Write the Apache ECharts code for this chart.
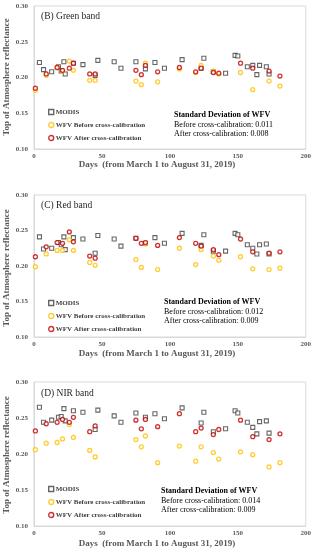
<!DOCTYPE html>
<html>
<head>
<meta charset="utf-8">
<script src="https://cdn.jsdelivr.net/npm/echarts@6/dist/echarts.min.js"></script>
<style>html,body{margin:0;padding:0;background:#fff;}#c{width:314px;height:550px;}</style>
</head>
<body>
<div id="c"></div>
<script>
// Days of observations
var modisDays = [4, 7, 13, 18, 20, 22, 23, 29, 36, 45, 47, 59, 64, 75, 82, 89, 96, 109, 123, 125, 132, 141, 148, 150, 157, 161, 164, 166, 171, 173];
var wfvDays = [1, 9, 17, 21, 26, 29, 41, 45, 75, 79, 82, 91, 107, 119, 123, 132, 136, 152, 161, 173, 181];

// (B) Green band
var greenModis = [0.221, 0.211, 0.208, 0.215, 0.209, 0.222, 0.205, 0.220, 0.218, 0.203, 0.224, 0.222, 0.213, 0.222, 0.212, 0.221, 0.213, 0.225, 0.213, 0.227, 0.208, 0.206, 0.231, 0.230, 0.215, 0.217, 0.204, 0.217, 0.215, 0.205];
var greenBefore = [0.182, 0.203, 0.214, 0.209, 0.223, 0.210, 0.196, 0.196, 0.195, 0.190, 0.220, 0.194, 0.212, 0.207, 0.217, 0.209, 0.205, 0.207, 0.183, 0.195, 0.188];
var greenAfter = [0.185, 0.205, 0.214, 0.210, 0.213, 0.220, 0.205, 0.205, 0.210, 0.204, 0.217, 0.208, 0.214, 0.208, 0.213, 0.207, 0.206, 0.220, 0.213, 0.209, 0.202];

// (C) Red band
var redModis = [0.241, 0.224, 0.225, 0.233, 0.230, 0.241, 0.223, 0.240, 0.238, 0.218, 0.243, 0.238, 0.228, 0.239, 0.232, 0.240, 0.232, 0.246, 0.229, 0.244, 0.221, 0.221, 0.246, 0.244, 0.230, 0.225, 0.217, 0.230, 0.231, 0.217];
var redBefore = [0.199, 0.217, 0.222, 0.222, 0.237, 0.222, 0.205, 0.201, 0.209, 0.198, 0.231, 0.195, 0.225, 0.202, 0.223, 0.214, 0.208, 0.213, 0.196, 0.195, 0.197];
var redAfter = [0.213, 0.227, 0.233, 0.232, 0.248, 0.234, 0.214, 0.211, 0.239, 0.232, 0.233, 0.229, 0.240, 0.232, 0.228, 0.223, 0.216, 0.238, 0.220, 0.218, 0.220];

// (D) NIR band
var nirModis = [0.265, 0.244, 0.247, 0.251, 0.252, 0.263, 0.246, 0.260, 0.258, 0.234, 0.261, 0.253, 0.244, 0.257, 0.251, 0.256, 0.249, 0.264, 0.243, 0.258, 0.231, 0.235, 0.260, 0.257, 0.244, 0.237, 0.228, 0.245, 0.246, 0.229];
var nirBefore = [0.206, 0.215, 0.216, 0.221, 0.241, 0.223, 0.205, 0.196, 0.220, 0.210, 0.225, 0.188, 0.211, 0.190, 0.210, 0.202, 0.193, 0.203, 0.199, 0.182, 0.188];
var nirAfter = [0.232, 0.242, 0.244, 0.248, 0.244, 0.251, 0.231, 0.239, 0.247, 0.235, 0.248, 0.238, 0.256, 0.231, 0.236, 0.227, 0.234, 0.247, 0.224, 0.220, 0.228];

var panelTitles = ['(B) Green band', '(C) Red band', '(D) NIR band'];
var stdBefore = ['0.011', '0.012', '0.014'];
var stdAfter = ['0.008', '0.009', '0.009'];
var yTicks = [0.10, 0.15, 0.20, 0.25, 0.30];
var xTicks = [0, 50, 100, 150, 200];

var seriesNames = ['MODIS', 'WFV Before cross-calibration', 'WFV After cross-calibration'];
var seriesColors = ['#404040', '#FFC000', '#C00000'];
var panels = [
  {modis: greenModis, before: greenBefore, after: greenAfter},
  {modis: redModis, before: redBefore, after: redAfter},
  {modis: nirModis, before: nirBefore, after: nirAfter}
];

function pairs(xs, ys) { return xs.map(function (x, i) { return [x, ys[i]]; }); }

var layout = [
  {top: 6, height: 143, legendTop: 108, stdX: 174, stdY: 116, titleY: 17, xLabelY: 165, yTitleY: 77},
  {top: 195, height: 142, legendTop: 299, stdX: 164, stdY: 303, titleY: 206, xLabelY: 354, yTitleY: 268},
  {top: 382, height: 144, legendTop: 485, stdX: 161, stdY: 492, titleY: 394, xLabelY: 544, yTitleY: 455}
];

var FONT = '"Liberation Serif", "Times New Roman", serif';
var grids = [], xAxes = [], yAxes = [], series = [], legends = [], graphics = [];

layout.forEach(function (L, k) {
  grids.push({left: 34, right: 8, top: L.top, height: L.height, show: true, borderColor: '#d9d9d9', borderWidth: 1, backgroundColor: 'transparent'});
  xAxes.push({
    type: 'value', gridIndex: k, min: 0, max: 200, interval: 50,
    axisLine: {show: true, lineStyle: {color: '#d9d9d9', width: 1}},
    axisTick: {show: false}, splitLine: {show: false},
    axisLabel: {fontFamily: FONT, fontSize: 7, fontWeight: 'bold', color: '#595959', margin: 4}
  });
  yAxes.push({
    type: 'value', gridIndex: k, min: 0.10, max: 0.30, interval: 0.05,
    axisLine: {show: true, lineStyle: {color: '#d9d9d9', width: 1}},
    axisTick: {show: false}, splitLine: {show: false},
    axisLabel: {fontFamily: FONT, fontSize: 7, fontWeight: 'bold', color: '#595959', margin: 6,
      formatter: function (v) { return v.toFixed(2); }}
  });
  var P = panels[k];
  series.push({
    name: seriesNames[0], type: 'scatter', xAxisIndex: k, yAxisIndex: k, symbol: 'rect', symbolSize: 4,
    itemStyle: {color: '#ffffff', borderColor: seriesColors[0], borderWidth: 1.1}, data: pairs(modisDays, P.modis), z: 2
  });
  series.push({
    name: seriesNames[1], type: 'scatter', xAxisIndex: k, yAxisIndex: k, symbol: 'circle', symbolSize: 4,
    itemStyle: {color: '#ffffff', borderColor: seriesColors[1], borderWidth: 1.3}, data: pairs(wfvDays, P.before), z: 3
  });
  series.push({
    name: seriesNames[2], type: 'scatter', xAxisIndex: k, yAxisIndex: k, symbol: 'circle', symbolSize: 4,
    itemStyle: {color: '#ffffff', borderColor: seriesColors[2], borderWidth: 1.3}, data: pairs(wfvDays, P.after), z: 4
  });
  legends.push({
    orient: 'vertical', left: 48, top: L.legendTop, padding: 0, itemWidth: 5, itemHeight: 5, itemGap: 5,
    selectedMode: false,
    data: seriesNames.map(function (n, i) {
      return {name: n, icon: i === 0 ? 'rect' : 'circle',
        itemStyle: {color: '#ffffff', borderColor: seriesColors[i], borderWidth: 1.4}};
    }),
    textStyle: {fontFamily: FONT, fontSize: 7, fontWeight: 'bold', color: '#404040', lineHeight: 8, padding: [0, 0, 0, -3]}
  });
  graphics.push({type: 'text', left: 41, top: L.titleY - 6, style: {text: panelTitles[k], font: '9.5px ' + FONT, fill: '#262626'}});
  graphics.push({type: 'text', left: L.stdX, top: L.stdY - 5, style: {text: 'Standard Deviation of WFV', font: 'bold 8px ' + FONT, fill: '#000'}});
  graphics.push({type: 'text', left: L.stdX, top: L.stdY + 5, style: {text: 'Before cross-calibration: ' + stdBefore[k], font: '8px ' + FONT, fill: '#000'}});
  graphics.push({type: 'text', left: L.stdX, top: L.stdY + 14, style: {text: 'After cross-calibration: ' + stdAfter[k], font: '8px ' + FONT, fill: '#000'}});
  graphics.push({type: 'text', x: 157, y: L.xLabelY, style: {text: 'Days  (from March 1 to August 31, 2019)', font: 'bold 9px ' + FONT, fill: '#595959', align: 'center', verticalAlign: 'middle'}});
  graphics.push({type: 'text', x: 7, y: L.yTitleY, rotation: Math.PI / 2, style: {text: 'Top of Atmosphere reflectance', font: 'bold 9px ' + FONT, fill: '#595959', align: 'center', verticalAlign: 'middle'}});
});

var chart = echarts.init(document.getElementById('c'), null, {renderer: 'canvas'});
chart.setOption({
  animation: false,
  backgroundColor: '#ffffff',
  grid: grids, xAxis: xAxes, yAxis: yAxes, series: series, legend: legends, graphic: graphics
});
</script>
</body>
</html>
